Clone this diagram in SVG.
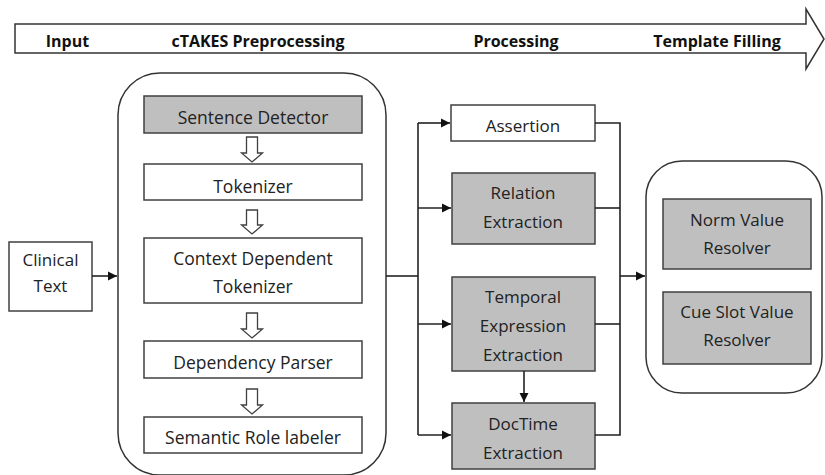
<svg xmlns="http://www.w3.org/2000/svg" width="825" height="475" viewBox="0 0 825 475">
<style>
.box{fill:#ffffff;stroke:#404040;stroke-width:1.5}
.gray{fill:#bfbfbf;stroke:#404040;stroke-width:1.5}
.cont{fill:#ffffff;stroke:#333333;stroke-width:1.5}
.hollow{fill:#ffffff;stroke:#404040;stroke-width:1.3}
.t{font-family:"Open Sans",Lato,sans-serif;font-size:17px;fill:#222222;text-anchor:middle}
.p{font-size:17.5px}
.h{font-family:"Open Sans",Lato,sans-serif;font-size:16px;font-weight:bold;fill:#111111;text-anchor:middle}
.ln{fill:none;stroke:#222222;stroke-width:1.6}
</style>
<defs>
<marker id="ah" markerWidth="10" markerHeight="10" refX="9" refY="5" orient="auto" markerUnits="userSpaceOnUse">
<path d="M0,0.5 L9,5 L0,9.5 Z" fill="#111111"/>
</marker>
</defs>

<g id="phase-arrow">
<path d="M15,24 L806,24 L806,9 L824,39 L806,69 L806,53 L15,53 Z" fill="#ffffff" stroke="#333333" stroke-width="1.5"/>
<text class="h" x="67.5" y="47">Input</text>
<text class="h" x="258" y="47">cTAKES Preprocessing</text>
<text class="h" x="516" y="47">Processing</text>
<text class="h" x="717" y="47">Template Filling</text>
</g>

<g id="clinical-text">
<rect class="box" x="9" y="242" width="83" height="69"/>
<text class="t" x="50.5" y="266" font-size="15">Clinical</text>
<text class="t" x="50.5" y="292" font-size="15">Text</text>
</g>

<g id="ctakes">
<rect class="cont" x="118" y="73" width="268" height="402" rx="42" ry="42"/>
</g>

<g id="sentence-detector">
<rect class="gray" x="144" y="96" width="218" height="37"/>
<text class="t p" x="253" y="124">Sentence Detector</text>
</g>
<g id="tokenizer">
<rect class="box" x="144" y="164" width="218" height="36"/>
<text class="t p" x="253" y="193">Tokenizer</text>
</g>
<g id="context-tokenizer">
<rect class="box" x="144" y="238" width="218" height="65"/>
<text class="t p" x="253" y="265">Context Dependent</text>
<text class="t p" x="253" y="293">Tokenizer</text>
</g>
<g id="dependency-parser">
<rect class="box" x="144" y="341" width="218" height="37"/>
<text class="t p" x="253" y="369">Dependency Parser</text>
</g>
<g id="semantic-role">
<rect class="box" x="144" y="417" width="218" height="36"/>
<text class="t p" x="253" y="444">Semantic Role labeler</text>
</g>

<g id="hollow-arrows">
<path class="hollow" d="M246.5,137 L257.5,137 L257.5,153 L262.5,153 L252,162 L241.5,153 L246.5,153 Z"/>
<path class="hollow" d="M246.5,210 L257.5,210 L257.5,225 L262.5,225 L252,234 L241.5,225 L246.5,225 Z"/>
<path class="hollow" d="M246.5,313 L257.5,313 L257.5,329 L262.5,329 L252,338 L241.5,329 L246.5,329 Z"/>
<path class="hollow" d="M246.5,389 L257.5,389 L257.5,405 L262.5,405 L252,414 L241.5,405 L246.5,405 Z"/>
</g>

<g id="assertion">
<rect class="box" x="451" y="105" width="144" height="36"/>
<text class="t" x="523" y="132">Assertion</text>
</g>
<g id="relation-extraction">
<rect class="gray" x="452" y="173" width="143" height="71"/>
<text class="t" x="523" y="199">Relation</text>
<text class="t" x="523" y="228">Extraction</text>
</g>
<g id="temporal-extraction">
<rect class="gray" x="452" y="277" width="143" height="94"/>
<text class="t" x="523" y="303">Temporal</text>
<text class="t" x="523" y="332">Expression</text>
<text class="t" x="523" y="361">Extraction</text>
</g>
<g id="doctime-extraction">
<rect class="gray" x="452" y="403" width="143" height="66"/>
<text class="t" x="523" y="430">DocTime</text>
<text class="t" x="523" y="459">Extraction</text>
</g>

<g id="template-filling">
<rect class="cont" x="646" y="161" width="176" height="232" rx="36" ry="36"/>
</g>
<g id="norm-value-resolver">
<rect class="gray" x="663" y="199" width="148" height="70"/>
<text class="t" x="737" y="226">Norm Value</text>
<text class="t" x="737" y="254">Resolver</text>
</g>
<g id="cue-slot-resolver">
<rect class="gray" x="663" y="292" width="148" height="72"/>
<text class="t" x="737" y="318">Cue Slot Value</text>
<text class="t" x="737" y="346">Resolver</text>
</g>

<g id="connectors">
<line class="ln" x1="92" y1="276" x2="117" y2="276" marker-end="url(#ah)"/>
<line class="ln" x1="386" y1="276" x2="418" y2="276"/>
<line class="ln" x1="418" y1="123" x2="418" y2="435"/>
<line class="ln" x1="418" y1="123" x2="450" y2="123" marker-end="url(#ah)"/>
<line class="ln" x1="418" y1="208" x2="451" y2="208" marker-end="url(#ah)"/>
<line class="ln" x1="418" y1="324" x2="451" y2="324" marker-end="url(#ah)"/>
<line class="ln" x1="418" y1="435" x2="451" y2="435" marker-end="url(#ah)"/>
<line class="ln" x1="524" y1="371" x2="524" y2="402" marker-end="url(#ah)"/>
<polyline class="ln" points="595,123 620,123 620,435 595,435"/>
<line class="ln" x1="595" y1="208" x2="620" y2="208"/>
<line class="ln" x1="595" y1="324" x2="620" y2="324"/>
<line class="ln" x1="620" y1="276" x2="645" y2="276" marker-end="url(#ah)"/>
</g>
</svg>
